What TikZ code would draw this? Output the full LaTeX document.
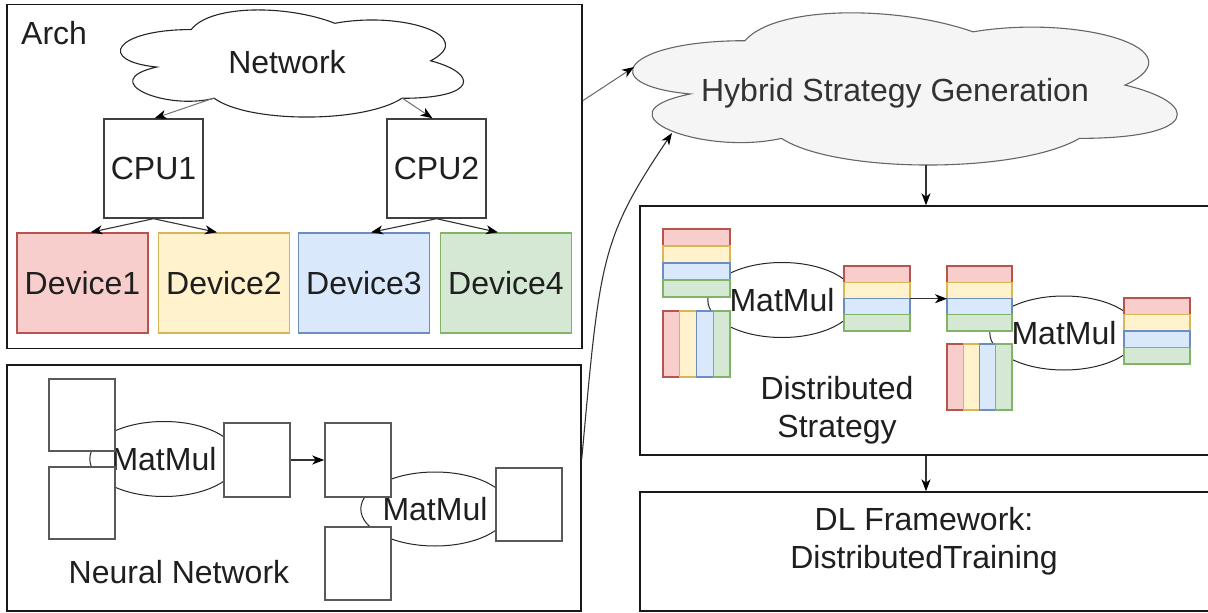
\documentclass[tikz,border=0pt]{standalone}
\usepackage{fontspec}
\setmainfont{Liberation Sans}
\usetikzlibrary{arrows.meta,calc,shapes.geometric}
\definecolor{rF}{HTML}{F8CECC}\definecolor{rS}{HTML}{B85450}
\definecolor{yF}{HTML}{FFF2CC}\definecolor{yS}{HTML}{D6B656}
\definecolor{bF}{HTML}{DAE8FC}\definecolor{bS}{HTML}{6C8EBF}
\definecolor{gF}{HTML}{D5E8D4}\definecolor{gS}{HTML}{82B366}
\definecolor{hybF}{HTML}{F5F5F5}\definecolor{hybS}{HTML}{666666}\definecolor{hybT}{HTML}{333333}
\newcommand\drawcloud[6]{%
 \filldraw[fill=#5, draw=#6, line width=1.1pt]
 ({#1+0.25*#3},{#2+0.25*#4})
 .. controls ({#1+0.05*#3},{#2+0.25*#4}) and ({#1},{#2+0.5*#4}) .. ({#1+0.16*#3},{#2+0.55*#4})
 .. controls ({#1},{#2+0.66*#4}) and ({#1+0.18*#3},{#2+0.9*#4}) .. ({#1+0.31*#3},{#2+0.8*#4})
 .. controls ({#1+0.4*#3},{#2+#4}) and ({#1+0.7*#3},{#2+#4}) .. ({#1+0.8*#3},{#2+0.8*#4})
 .. controls ({#1+#3},{#2+0.8*#4}) and ({#1+#3},{#2+0.6*#4}) .. ({#1+0.875*#3},{#2+0.5*#4})
 .. controls ({#1+#3},{#2+0.3*#4}) and ({#1+0.8*#3},{#2+0.1*#4}) .. ({#1+0.625*#3},{#2+0.2*#4})
 .. controls ({#1+0.5*#3},{#2+0.05*#4}) and ({#1+0.3*#3},{#2+0.05*#4}) .. ({#1+0.25*#3},{#2+0.25*#4}) -- cycle;
}
\newcommand\hblk[5]{%
 \node[blk, minimum width=#4pt, minimum height=#5pt, anchor=north west] (#1) at (#2,#3) {};
 \draw[stR] (#2,#3) rectangle ++(#4,#5/4);
 \draw[stY] (#2,#3+#5/4) rectangle ++(#4,#5/4);
 \draw[stB] (#2,#3+#5/2) rectangle ++(#4,#5/4);
 \draw[stG] (#2,#3+3*#5/4) rectangle ++(#4,#5/4);
}
\newcommand\vblk[5]{%
 \node[blk, minimum width=#4pt, minimum height=#5pt, anchor=north west] (#1) at (#2,#3) {};
 \draw[stR] (#2,#3) rectangle ++(#4/4,#5);
 \draw[stY] (#2+#4/4,#3) rectangle ++(#4/4,#5);
 \draw[stB] (#2+#4/2,#3) rectangle ++(#4/4,#5);
 \draw[stG] (#2+3*#4/4,#3) rectangle ++(#4/4,#5);
}
\begin{document}
\begin{tikzpicture}[x=1pt,y=-1pt,
 every node/.style={font=\fontsize{32}{38}\selectfont, text=black!88},
 frame/.style={draw=black!90, line width=1.4pt, inner sep=0pt},
 cpubox/.style={draw=black!75, line width=1.4pt, fill=white, inner sep=0pt, minimum width=99pt, minimum height=99pt},
 devR/.style={draw=rS, fill=rF, line width=1.3pt, inner sep=0pt, minimum width=131pt, minimum height=100pt},
 devY/.style={draw=yS, fill=yF, line width=1.3pt, inner sep=0pt, minimum width=131pt, minimum height=100pt},
 devB/.style={draw=bS, fill=bF, line width=1.3pt, inner sep=0pt, minimum width=131pt, minimum height=100pt},
 devG/.style={draw=gS, fill=gF, line width=1.3pt, inner sep=0pt, minimum width=131pt, minimum height=100pt},
 nnbox/.style={draw=black!65, line width=1.6pt, fill=white, inner sep=0pt, minimum width=66pt},
 opell/.style={ellipse, draw=black!85, line width=1pt, fill=white, inner sep=0pt, minimum width=121pt, minimum height=75pt},
 blk/.style={inner sep=0pt, draw=none},
 stR/.style={draw=rS, fill=rF, line width=1.2pt},
 stY/.style={draw=yS, fill=yF, line width=1.2pt},
 stB/.style={draw=bS, fill=bF, line width=1.2pt},
 stG/.style={draw=gS, fill=gF, line width=1.2pt},
 arrN/.style={draw=black!55, line width=1pt, -{Stealth[length=12pt,width=9pt,inset=3.5pt,black]}},
 arrC/.style={draw=black!80, line width=1.1pt, -{Stealth[length=12pt,width=9pt,inset=3.5pt,black]}},
]
\useasboundingbox (0,0) rectangle (1208,613);

% ---------- Arch ----------
\node[frame, minimum width=575pt, minimum height=344pt] (arch) at (294.5,176.5) {};
\node[anchor=base west, inner sep=0pt] (archlbl) at (21,44) {Arch};
\drawcloud{95.5}{-1.7}{383}{125}{white}{black!85}
\coordinate (netBL) at (214,98);
\coordinate (netBR) at (402,98);
\node[anchor=base, inner sep=0pt] (net) at (287,73) {Network};
\node[cpubox] (cpu1) at (153.5,168.5) {CPU1};
\node[cpubox] (cpu2) at (436.5,168.5) {CPU2};
\node[devR] (dev1) at (82.5,283) {Device1};
\node[devY] (dev2) at (224,283) {Device2};
\node[devB] (dev3) at (364,283) {Device3};
\node[devG] (dev4) at (506,283) {Device4};
\draw[arrN] (netBL) -- ([xshift=1pt]cpu1.north);
\draw[arrN] (netBR) -- ([xshift=-4pt]cpu2.north);
\draw[arrC] (cpu1.south) -- ([xshift=8pt]dev1.north);
\draw[arrC] (cpu1.south) -- ([xshift=-7pt]dev2.north);
\draw[arrC] (cpu2.south) -- ([xshift=7pt]dev3.north);
\draw[arrC] (cpu2.south) -- ([xshift=-8pt]dev4.north);

% ---------- Neural network ----------
\node[frame, minimum width=574pt, minimum height=246pt] (nn) at (294,488) {};
\node[opell] (nnm1) at (164,459) {MatMul};
\node[opell, minimum width=122pt, minimum height=74pt] (nnm2) at (435,509) {MatMul};
\node[nnbox, minimum height=72pt] (nA) at (81.7,415) {};
\node[nnbox, minimum height=72pt] (nB) at (81.7,503) {};
\node[nnbox, minimum height=74pt] (nC) at (257,460) {};
\node[nnbox, minimum height=74pt] (nD) at (358,460) {};
\node[nnbox, minimum height=73pt] (nE) at (529,504.5) {};
\node[nnbox, minimum height=73pt] (nF) at (358,563.5) {};
\draw[arrC] (nC.east) -- (nD.west);
\node[anchor=base, inner sep=0pt] (nnlbl) at (179,583) {Neural Network};

% ---------- Hybrid strategy cloud ----------
\drawcloud{593}{-3.7}{608}{177.6}{hybF}{hybS}
\node[anchor=base, inner sep=0pt, text=hybT] (hyb) at (895,101) {Hybrid Strategy Generation};
\coordinate (hybL) at (634,67);
\coordinate (hybLL) at (672,133);
\coordinate (hybB) at (926,165);
\draw[arrN, draw=black!60] ([yshift=-97pt]arch.north east) -- (hybL);
\draw[arrC] ([yshift=-95pt]nn.north east) .. controls (600,260) and (600,240) .. (hybLL);

% ---------- Distributed strategy ----------
\node[frame, minimum width=572pt, minimum height=249pt] (dist) at (926,330.5) {};
\draw[arrC] (hybB) -- (dist.north);
\node[opell] (dm1) at (782,300) {MatMul};
\node[opell, minimum width=120pt, minimum height=74pt] (dm2) at (1064,333) {MatMul};
\hblk{bA}{663}{229}{67}{68}
\vblk{bB}{663}{311}{67}{66}
\hblk{bC}{844}{266}{66}{65}
\hblk{bD}{947}{266}{65}{65}
\vblk{bE}{947}{344}{65}{66}
\hblk{bF}{1124}{298}{66}{66}
\draw[arrC] (bC.east) -- (bD.west);
\node[anchor=base, align=center, inner sep=0pt] (dlbl) at (837,437) {Distributed\\Strategy};

% ---------- DL framework ----------
\node[frame, minimum width=572pt, minimum height=119pt] (dl) at (926,551.5) {};
\draw[arrC] (dist.south) -- (dl.north);
\node[anchor=base, align=center, inner sep=0pt] (dltxt) at (924,568) {DL Framework:\\DistributedTraining};
\end{tikzpicture}
\end{document}
